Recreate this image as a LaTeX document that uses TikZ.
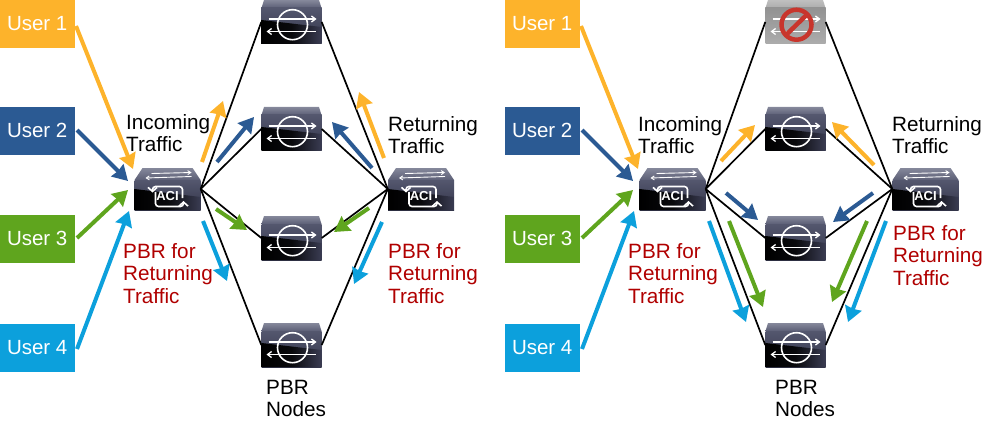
\documentclass[tikz,border=0pt]{standalone}
\usepackage{fontspec}
\setmainfont{Liberation Sans}
\usetikzlibrary{arrows.meta}
\definecolor{cOr}{HTML}{FDB32B}
\definecolor{cBl}{HTML}{2B5A93}
\definecolor{cGr}{HTML}{5FA51E}
\definecolor{cCy}{HTML}{0CA0DC}
\definecolor{cRd}{HTML}{B00000}
\definecolor{topA}{HTML}{85889B}
\definecolor{topB}{HTML}{5C5F76}
\definecolor{frA}{HTML}{54576E}
\definecolor{frB}{HTML}{33354A}
\definecolor{frC}{HTML}{3A3C52}
\definecolor{noRed}{HTML}{C8352C}
\tikzset{
  userbox/.style={rectangle,minimum width=75pt,minimum height=48.5pt,inner sep=0pt,text=white,font=\fontsize{20.5}{22}\selectfont},
  pbrbox/.style={rectangle,minimum width=60pt,minimum height=44pt,inner sep=0pt},
  leafbox/.style={rectangle,minimum width=66pt,minimum height=42pt,inner sep=0pt},
  link/.style={black,line width=1.7pt},
  flowarr/.style={line width=4pt,-{Stealth[inset=1pt,width=17pt,length=15pt]}},
  lbl/.style={anchor=north west,align=left,inner sep=0pt,font=\fontsize{20.7}{22.5}\selectfont},
  redlbl/.style={lbl,text=cRd},
  wa/.style={white,line width=1.3pt,-{Straight Barb[length=4pt,width=6pt]}},
  wt/.style={white,line width=.9pt,-{Straight Barb[length=3pt,width=4pt]}},
  wc/.style={white,line width=1.6pt,rounded corners=3pt,-{Straight Barb[length=4pt,width=9pt]}},
}
\newcommand{\pbrdev}[2]{%
  \node[pbrbox] (#1) at (#2) {};
  \begin{scope}[shift={(#2)}]
    \shade[top color=topA,bottom color=topB] (-27.5,-22)--(27.5,-22)--(30,-14)--(-30,-14)--cycle;
    \shade[top color=frA,bottom color=frB] (-30,-14) rectangle (30,22);
    \shade[left color=black,right color=frC,middle color=black!85!frC] (-30,-2)--(30,5)--(30,22)--(-30,22)--cycle;
    \draw[white,line width=1.6pt] (1,2.7) circle (15);
    \draw[wa] (-23,-3)--(25,-3);
    \draw[wa] (24,9.5)--(-25,9.5);
  \end{scope}}
\newcommand{\leafdev}[2]{%
  \node[leafbox] (#1) at (#2) {};
  \begin{scope}[shift={(#2)}]
    \shade[top color=topA,bottom color=topB] (-25,-21)--(25,-21)--(33,-9)--(-33,-9)--cycle;
    \shade[top color=frA,bottom color=frB] (-33,-9) rectangle (33,21);
    \shade[left color=black,right color=frC,middle color=black!85!frC] (-33,0)--(33,8)--(33,21)--(-33,21)--cycle;
    \draw[wt] (-16,-15.5)--(24,-16.5);
    \draw[wt] (24,-12.5)--(-22,-11);
    \draw[wc] (15,9)--(15,-2.5)--(-15,-2.5)--(-15,3.5);
    \draw[wc] (-12,3)--(-12,17.5)--(16,17.5)--(16,12);
    \node[inner sep=0pt,text=white,font=\bfseries\fontsize{13}{13}\selectfont] (#1t) at (0,7.5) {ACI};
  \end{scope}}
\newcommand{\deaddev}[2]{%
  \node[pbrbox] (#1) at (#2) {};
  \begin{scope}[shift={(#2)}]
    \shade[top color=gray!50,bottom color=gray!65] (-27.5,-22)--(27.5,-22)--(30,-14)--(-30,-14)--cycle;
    \shade[top color=gray!85,bottom color=gray!65] (-30,-14) rectangle (30,22);
    \draw[wa] (-23,-3)--(25,-3);
    \draw[wa] (24,9.5)--(-25,9.5);
    \draw[noRed,line width=4.5pt] (1,2.7) circle (15);
    \draw[noRed,line width=4.5pt] (12,-8)--(-10,13.5);
  \end{scope}}
\newcommand{\flow}[4]{%
  \coordinate (#1s) at #3; \coordinate (#1e) at #4;
  \draw[flowarr,#2] (#1s)--(#1e);}
\begin{document}
\begin{tikzpicture}[x=1pt,y=-1pt]
\useasboundingbox (0,0) rectangle (985,425);
\node[userbox,fill=cOr] (ua) at (37.2,24) {\raisebox{1pt}{User 1}};
\node[userbox,fill=cBl] (ub) at (37.2,131) {\raisebox{1pt}{User 2}};
\node[userbox,fill=cGr] (uc) at (37.2,239) {\raisebox{1pt}{User 3}};
\node[userbox,fill=cCy] (ud) at (37.2,348) {\raisebox{1pt}{User 4}};
\node[userbox,fill=cOr] (ue) at (542.2,24) {\raisebox{1pt}{User 1}};
\node[userbox,fill=cBl] (uf) at (542.2,131) {\raisebox{1pt}{User 2}};
\node[userbox,fill=cGr] (ug) at (542.2,239) {\raisebox{1pt}{User 3}};
\node[userbox,fill=cCy] (uh) at (542.2,348) {\raisebox{1pt}{User 4}};
\pbrdev{pa}{291.5,22}
\pbrdev{pb}{291.5,129}
\pbrdev{pc}{291.5,238}
\pbrdev{pd}{291.5,345}
\deaddev{qa}{795.5,22}
\pbrdev{qb}{795.5,129}
\pbrdev{qc}{795.5,238}
\pbrdev{qd}{795.5,345}
\leafdev{la}{167.5,189}
\leafdev{lb}{421,189}
\leafdev{lc}{672.5,189}
\leafdev{ld}{925.5,189}
\foreach \p in {pa,pb,pc,pd} {
  \draw[link] (la.east)--(\p.west);
  \draw[link] (lb.west)--(\p.east);
}
\foreach \p in {qa,qb,qc,qd} {
  \draw[link] (lc.east)--(\p.west);
  \draw[link] (ld.west)--(\p.east);
}
\flow{a1}{cOr}{(76,26)}{(133,169)}
\flow{a2}{cBl}{(77,130)}{(128,181)}
\flow{a3}{cGr}{(77,238)}{(128,190)}
\flow{a4}{cCy}{(77,349)}{(129,211)}
\flow{a5}{cOr}{(202,162)}{(223,101)}
\flow{a6}{cBl}{(217,162)}{(254,117)}
\flow{a7}{cGr}{(216,209)}{(247,230)}
\flow{a8}{cCy}{(203,221)}{(227,281)}
\flow{a9}{cOr}{(384,158)}{(359,92)}
\flow{b1}{cBl}{(372,168)}{(332,122)}
\flow{b2}{cGr}{(369,208)}{(334,232)}
\flow{b3}{cCy}{(382,222)}{(354,284)}
\flow{c1}{cOr}{(581,26)}{(638,169)}
\flow{c2}{cBl}{(582,130)}{(633,181)}
\flow{c3}{cGr}{(582,238)}{(633,190)}
\flow{c4}{cCy}{(582,349)}{(634,211)}
\flow{c5}{cOr}{(721,161)}{(755,125)}
\flow{c6}{cOr}{(874,165)}{(832,122)}
\flow{c7}{cBl}{(726,193)}{(758,220)}
\flow{c8}{cBl}{(873,193)}{(833,222)}
\flow{c9}{cGr}{(729,221)}{(763,307)}
\flow{d1}{cGr}{(867,221)}{(832,302)}
\flow{d2}{cCy}{(709,221)}{(746,322)}
\flow{d3}{cCy}{(886,221)}{(848,322)}
\node[lbl] (ta) at (126,114) {Incoming\\Traffic};
\node[lbl] (tb) at (388,116) {Returning\\Traffic};
\node[redlbl] (tc) at (123,243) {PBR for\\Returning\\Traffic};
\node[redlbl] (td) at (388,243) {PBR for\\Returning\\Traffic};
\node[lbl] (te) at (266,380) {PBR\\Nodes};
\node[lbl] (tf) at (638,116) {Incoming\\Traffic};
\node[lbl] (tg) at (892,116) {Returning\\Traffic};
\node[redlbl] (th) at (628,243) {PBR for\\Returning\\Traffic};
\node[redlbl] (ti) at (893,225) {PBR for\\Returning\\Traffic};
\node[lbl] (tj) at (775,380) {PBR\\Nodes};
\end{tikzpicture}
\end{document}
